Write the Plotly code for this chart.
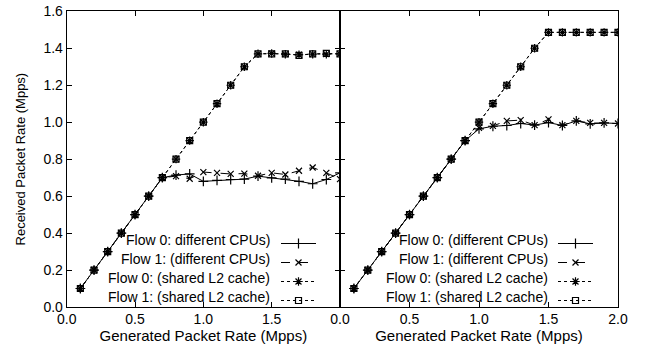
import plotly.graph_objects as go

gen_rate = [0.1, 0.2, 0.3, 0.4, 0.5, 0.6, 0.7, 0.8, 0.9, 1.0,
            1.1, 1.2, 1.3, 1.4, 1.5, 1.6, 1.7, 1.8, 1.9, 2.0]

# Left panel
left_f0_diff = [0.1, 0.2, 0.3, 0.4, 0.5, 0.6, 0.7, 0.714, 0.72, 0.68,
                0.685, 0.69, 0.692, 0.708, 0.699, 0.692, 0.68, 0.667, 0.69, 0.726]
left_f1_diff = [0.1, 0.2, 0.3, 0.4, 0.5, 0.6, 0.7, 0.708, 0.694, 0.73,
                0.726, 0.72, 0.722, 0.71, 0.726, 0.717, 0.737, 0.755, 0.726, 0.692]
left_f0_l2 = [0.1, 0.2, 0.3, 0.4, 0.5, 0.6, 0.7, 0.8, 0.9, 1.0,
              1.1, 1.2, 1.3, 1.37, 1.372, 1.368, 1.365, 1.368, 1.368, 1.37]
left_f1_l2 = [0.1, 0.2, 0.3, 0.4, 0.5, 0.6, 0.7, 0.8, 0.9, 1.0,
              1.1, 1.2, 1.3, 1.37, 1.37, 1.37, 1.362, 1.37, 1.372, 1.37]

# Right panel
right_f0_diff = [0.1, 0.2, 0.3, 0.4, 0.5, 0.6, 0.7, 0.8, 0.9, 0.964,
                 0.978, 0.982, 0.993, 0.984, 0.998, 0.982, 1.007, 0.991, 0.996, 0.993]
right_f1_diff = [0.1, 0.2, 0.3, 0.4, 0.5, 0.6, 0.7, 0.8, 0.9, 0.969,
                 0.98, 1.007, 1.011, 0.984, 1.015, 0.984, 1.007, 0.996, 0.996, 0.993]
right_f0_l2 = [0.1, 0.2, 0.3, 0.4, 0.5, 0.6, 0.7, 0.8, 0.9, 1.0,
               1.1, 1.2, 1.3, 1.4, 1.486, 1.486, 1.486, 1.486, 1.486, 1.486]
right_f1_l2 = [0.1, 0.2, 0.3, 0.4, 0.5, 0.6, 0.7, 0.8, 0.9, 1.0,
               1.1, 1.2, 1.3, 1.4, 1.486, 1.486, 1.486, 1.486, 1.486, 1.486]

left_names = ["Flow 0: different CPUs)", "Flow 1: (different CPUs)",
              "Flow 0: (shared L2 cache)", "Flow 1: (shared L2 cache)"]
right_names = ["Flow 0: (different CPUs)", "Flow 1: (different CPUs)",
               "Flow 0: (shared L2 cache)", "Flow 1: (shared L2 cache)"]

y_ticks = [0.0, 0.2, 0.4, 0.6, 0.8, 1.0, 1.2, 1.4, 1.6]
x_ticks = [0.0, 0.5, 1.0, 1.5, 2.0]

FONT = "Liberation Sans, Arial, Helvetica, sans-serif"
W, H = 646, 344

styles = [
    dict(dash="solid", symbol="cross-thin-open", size=7),
    dict(dash="dash", symbol="x-thin-open", size=6),
    dict(dash="dot", symbol="asterisk-open", size=7),
    dict(dash="dot", symbol="square-open", size=6),
]

fig = go.Figure()

def add_panel(series, names, xa, ya, legend):
    for ys, nm, st in zip(series, names, styles):
        fig.add_trace(go.Scatter(
            x=gen_rate, y=ys, name="", mode="lines+markers",
            xaxis=xa, yaxis=ya, legend=legend,
            hovertemplate=nm + "<br>%{x}, %{y}<extra></extra>",
            line=dict(color="black", width=1, dash=st["dash"]),
            marker=dict(symbol=st["symbol"], size=st["size"], color="black",
                        line=dict(color="black", width=1.2)),
        ))

add_panel([left_f0_diff, left_f1_diff, left_f0_l2, left_f1_l2], left_names, "x", "y", "legend")
add_panel([right_f0_diff, right_f1_diff, right_f0_l2, right_f1_l2], right_names, "x2", "y2", "legend2")

x0, xm, x1 = 66.7 / W, 340 / W, 618 / W
yb, yt = (H - 307) / H, (H - 11.3) / H

axis_common = dict(showline=True, linecolor="black", linewidth=1, ticks="inside",
                   ticklen=5, tickcolor="black", showgrid=False, zeroline=False,
                   automargin=False,
                   tickfont=dict(family=FONT, size=14, color="black"))

# legend: line/marker samples drawn by plotly, labels as annotations on their left
LEG_TOP = 229
ITEM_H = 19
leg_common = dict(yanchor="top", xanchor="left", y=(H - LEG_TOP) / H,
                  bgcolor="rgba(0,0,0,0)", tracegroupgap=0, itemwidth=35,
                  font=dict(family=FONT, size=10, color="black"))

annotations = []
for names, xr in ((left_names, 272), (right_names, 550)):
    for i, nm in enumerate(names):
        yc = 240 + i * ITEM_H
        annotations.append(dict(text=nm, xref="paper", yref="paper",
                                x=xr / W, y=(H - yc) / H, xanchor="right",
                                yanchor="middle", showarrow=False,
                                font=dict(family=FONT, size=14, color="black")))

fig.update_layout(
    width=W, height=H,
    margin=dict(l=0, r=0, t=0, b=0, autoexpand=False),
    plot_bgcolor="white", paper_bgcolor="white",
    font=dict(family=FONT, color="black"),
    showlegend=True,
    annotations=annotations,
    xaxis=dict(domain=[x0, xm], range=[0, 2], tickvals=x_ticks,
               ticktext=["0.0", "0.5", "1.0", "1.5", ""], mirror="ticks",
               ticklabelstandoff=-1,
               title=dict(text="Generated Packet Rate (Mpps)", font=dict(size=15), standoff=0),
               anchor="y", **axis_common),
    xaxis2=dict(domain=[xm, x1], range=[0, 2], tickvals=x_ticks,
                ticktext=["0.0", "0.5", "1.0", "1.5", "2.0"], mirror="ticks",
                ticklabelstandoff=-1,
                title=dict(text="Generated Packet Rate (Mpps)", font=dict(size=15), standoff=0),
                anchor="y2", **axis_common),
    yaxis=dict(domain=[yb, yt], range=[0, 1.6], tickvals=y_ticks,
               ticktext=[f"{v:.1f}" for v in y_ticks], mirror="ticks",
               title=dict(text="Received Packet Rate (Mpps)", font=dict(size=13), standoff=14),
               anchor="x", **axis_common),
    yaxis2=dict(domain=[yb, yt], range=[0, 1.6], tickvals=y_ticks,
                showticklabels=False, mirror=True, anchor="x2", **axis_common),
    legend=dict(x=276 / W, **leg_common),
    legend2=dict(x=553 / W, **leg_common),
)

fig.write_html("out.html", config={"displayModeBar": False},
               post_script="document.body.style.margin='0';")
